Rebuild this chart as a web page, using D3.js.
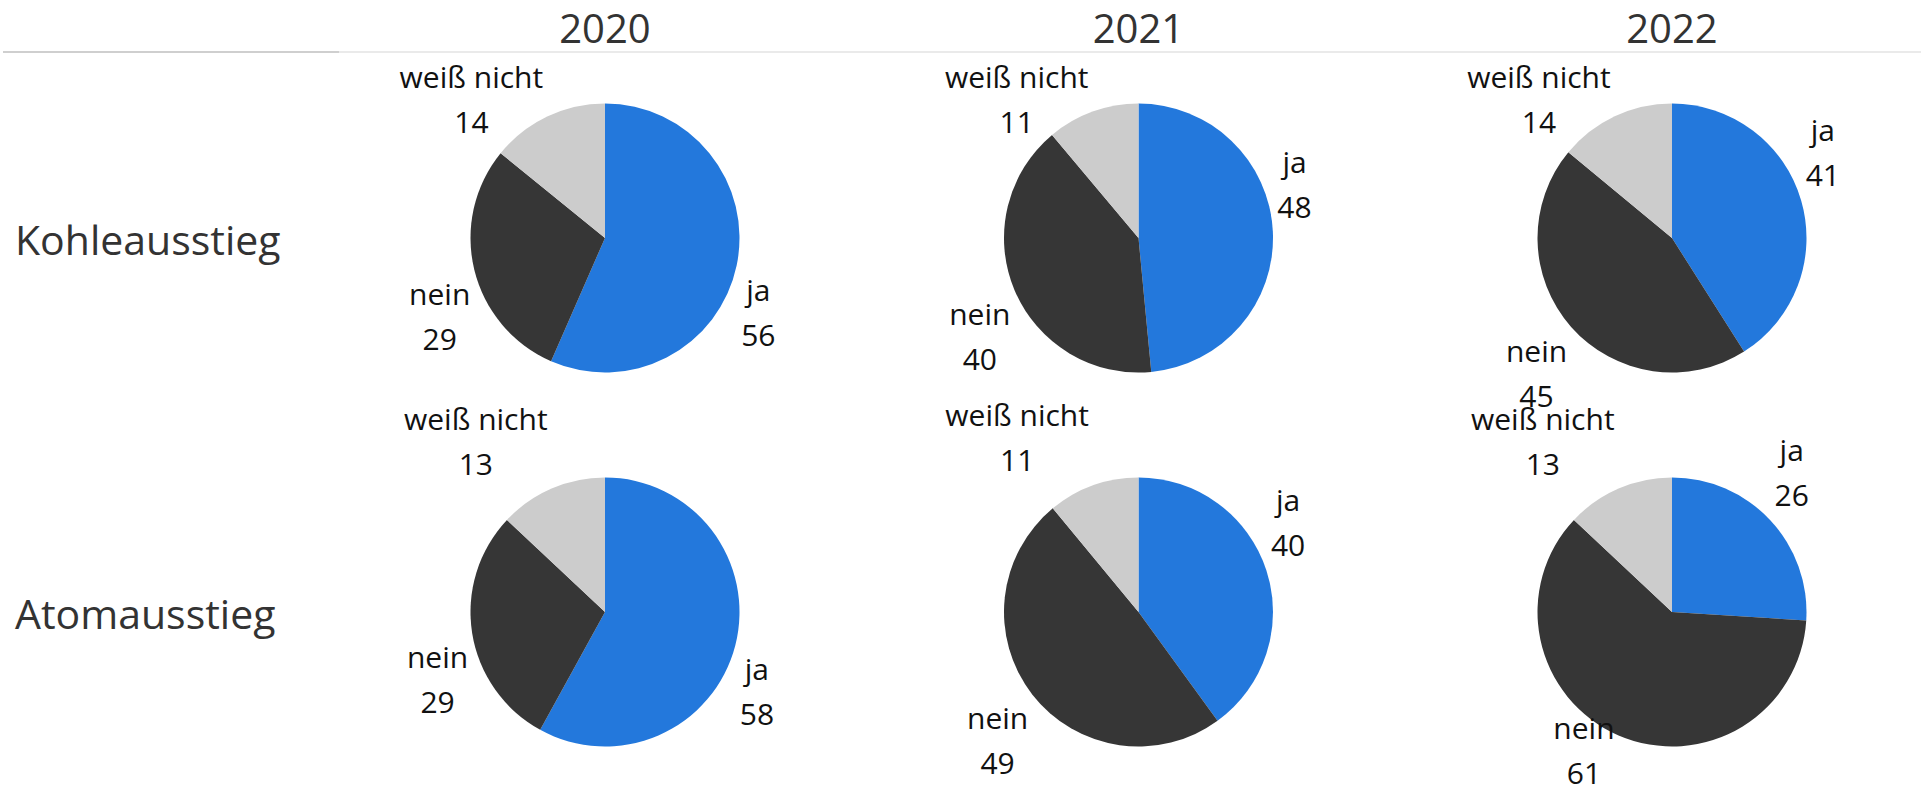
<!DOCTYPE html>
<html>
<head>
<meta charset="utf-8">
<script src="https://cdn.jsdelivr.net/npm/d3@7"></script>
<style>
  html, body { margin: 0; padding: 0; background: #fff; }
  svg { display: block; }
  text { font-family: "Open Sans", "Noto Sans", sans-serif; }
</style>
</head>
<body>
<svg id="chart" width="1921" height="788"></svg>
<script>
// ---- data ----
const years   = ["2020", "2021", "2022"];
const topics  = ["Kohleausstieg", "Atomausstieg"];
const answers = ["ja", "nein", "weiß nicht"];

const kohleJa    = [56, 48, 41];
const kohleNein  = [29, 40, 45];
const kohleWeiss = [14, 11, 14];

const atomJa     = [58, 40, 26];
const atomNein   = [29, 49, 61];
const atomWeiss  = [13, 11, 13];

const answerColors = ["#2378dc", "#363636", "#cccccc"];

// ---- build table ----
const seriesByTopic = {
  "Kohleausstieg": [kohleJa, kohleNein, kohleWeiss],
  "Atomausstieg":  [atomJa, atomNein, atomWeiss]
};
const cells = [];
topics.forEach(t => {
  years.forEach((y, yi) => {
    cells.push({
      topic: t, year: y,
      values: answers.map((a, ai) => ({ answer: a, value: seriesByTopic[t][ai][yi] }))
    });
  });
});

// ---- layout ----
const W = 1921, H = 788;
const svg = d3.select("#chart");
const x = d3.scalePoint().domain(years).range([605, 1672]);
const y = d3.scalePoint().domain(topics).range([238, 612]);
const color = d3.scaleOrdinal().domain(answers).range(answerColors);
const R = 134.5;
const labelFont = 30, lineH = 45;
const viewTop = 56, viewBottom = 797;

// header separator line
svg.append("line").attr("x1", 3).attr("x2", 339).attr("y1", 52).attr("y2", 52)
  .attr("stroke", "#cfcfcf").attr("stroke-width", 2);
svg.append("line").attr("x1", 339).attr("x2", W).attr("y1", 52).attr("y2", 52)
  .attr("stroke", "#e3e3e3").attr("stroke-width", 1.5);

// column headers
svg.append("g").selectAll("text").data(years).join("text")
  .attr("x", d => x(d)).attr("y", 43)
  .attr("text-anchor", "middle")
  .attr("font-size", 40).attr("fill", "#333333")
  .text(d => d);

// row headers
svg.append("g").selectAll("text").data(topics).join("text")
  .attr("x", 15).attr("y", d => y(d) + 17)
  .attr("font-size", 41).attr("fill", "#333333")
  .text(d => d);

const pie = d3.pie().sort(null).value(d => d.value);
const arc = d3.arc().innerRadius(0).outerRadius(R);

const pieLayer = svg.append("g");
const labelLayer = svg.append("g");

cells.forEach(c => {
  const cx = x(c.year), cy = y(c.topic);
  const arcs = pie(c.values);
  pieLayer.append("g").attr("transform", `translate(${cx},${cy})`)
    .selectAll("path").data(arcs).join("path")
    .attr("d", arc)
    .attr("fill", d => color(d.data.answer));

  arcs.forEach(a => {
    const mid = (a.startAngle + a.endAngle) / 2;
    const px = cx + R * Math.sin(mid);
    const py = cy - R * Math.cos(mid);
    const g = labelLayer.append("g");
    const t1 = g.append("text").attr("font-size", labelFont).attr("fill", "#111")
      .attr("text-anchor", "middle").text(a.data.answer);
    const t2 = g.append("text").attr("font-size", labelFont).attr("fill", "#111")
      .attr("text-anchor", "middle").text(a.data.value);
    const w = Math.max(t1.node().getComputedTextLength(), t2.node().getComputedTextLength());
    const boxH = 2 * lineH;
    let left = Math.sin(mid) >= 0 ? px + 4.5 : px - 4 - w;
    let top = Math.cos(mid) >= 0 ? py - 1 - boxH : py + 3;
    if (top < viewTop) top = viewTop;
    if (top + boxH > viewBottom) top = viewBottom - boxH;
    const tx = left + w / 2;
    t1.attr("x", tx).attr("y", top + 32);
    t2.attr("x", tx).attr("y", top + 32 + lineH);
  });
});
</script>
</body>
</html>
